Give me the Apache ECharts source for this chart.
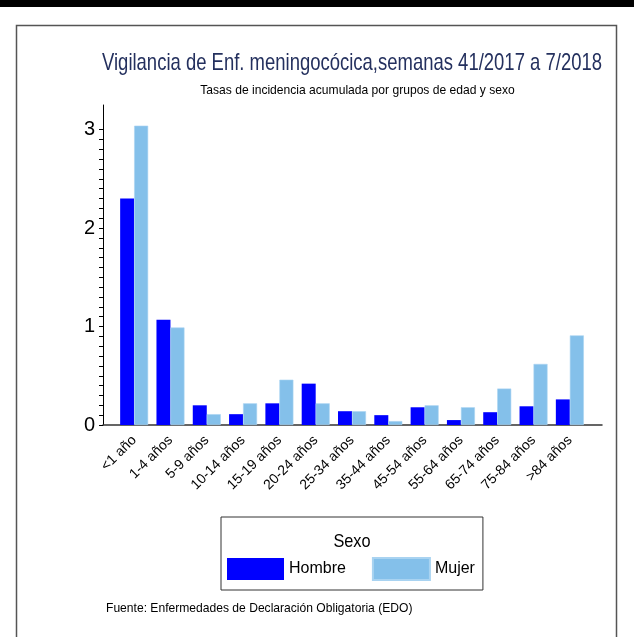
<!DOCTYPE html>
<html>
<head>
<meta charset="utf-8">
<title>Vigilancia de Enf. meningocócica</title>
<script src="https://cdn.jsdelivr.net/npm/echarts@6/dist/echarts.min.js"></script>
<style>
  html, body { margin: 0; padding: 0; background: #fff; }
  #chart { width: 634px; height: 637px; }
</style>
</head>
<body>
<div id="chart"></div>
<script>
var categories = ["<1 año", "1-4 años", "5-9 años", "10-14 años", "15-19 años", "20-24 años",
  "25-34 años", "35-44 años", "45-54 años", "55-64 años", "65-74 años", "75-84 años", ">84 años"];
var hombre = [2.30, 1.07, 0.20, 0.11, 0.22, 0.42, 0.14, 0.10, 0.18, 0.05, 0.13, 0.19, 0.26];
var mujer = [3.04, 0.99, 0.11, 0.22, 0.46, 0.22, 0.14, 0.04, 0.20, 0.18, 0.37, 0.62, 0.91];
var yLabels = [0, 1, 2, 3];

// minor ticks every 0.1 between 0 and 3
var yTicks = [];
for (var i = 0; i <= 30; i++) {
  yTicks.push(Math.round(i * 10) / 100);
}

var font = "'Liberation Sans', Arial, sans-serif";

// narrow-looking text: no condensed font installed, so squeeze it
function label(text, x, y, size, color, sx, align) {
  return {
    type: "text", x: x, y: y, scaleX: sx, silent: true,
    style: {
      text: text, fill: color, fontFamily: font, fontSize: size,
      textAlign: align || "center", textVerticalAlign: "middle",
    },
  };
}

var chart = echarts.init(document.getElementById("chart"));

var option = {
  backgroundColor: "#fff",
  animation: false,
  textStyle: { fontFamily: font },
  graphic: [
    { type: "rect", shape: { x: 0, y: 0, width: 634, height: 7 }, style: { fill: "#000" } },
    { type: "rect", shape: { x: 16.5, y: 25.5, width: 600, height: 640 },
      style: { fill: "none", stroke: "#555", lineWidth: 1.5 } },
    label("Vigilancia de Enf. meningocócica,semanas 41/2017 a 7/2018", 352, 63, 24, "#24305e", 0.77),
    label("Tasas de incidencia acumulada por grupos de edad y sexo", 357.5, 90, 13, "#000", 0.93),
    label("Sexo", 352, 542, 19, "#000", 0.86),
    label("Fuente: Enfermedades de Declaración Obligatoria (EDO)", 106, 608, 13, "#000", 0.93, "left"),
  ],
  legend: {
    data: ["Hombre", "Mujer"],
    left: 221, top: 517,
    orient: "horizontal",
    icon: "rect",
    itemWidth: 57, itemHeight: 22, itemGap: 26,
    padding: [40, 8, 9, 6],
    borderColor: "#333", borderWidth: 1,
    textStyle: { fontFamily: font, fontSize: 16, color: "#000" },
  },
  grid: [
    { left: 116, width: 472, top: 105, bottom: 212 },
    { left: 103, right: 32, top: 105, bottom: 212 },
  ],
  xAxis: [
    {
      type: "category", gridIndex: 0, data: categories,
      axisLine: { show: false },
      axisTick: { show: false },
      axisLabel: { rotate: 45, interval: 0, margin: 13, fontSize: 14, color: "#000", fontFamily: font },
    },
    {
      type: "value", gridIndex: 1, min: 0, max: 1,
      axisLine: { show: true, lineStyle: { color: "#333", width: 1.5 } },
      axisTick: { show: false }, axisLabel: { show: false }, splitLine: { show: false },
    },
  ],
  yAxis: [
    {
      type: "value", gridIndex: 0, min: 0, max: 3.25, offset: 13,
      axisLine: { show: true, lineStyle: { color: "#000", width: 1 } },
      axisTick: { show: true, length: 4, customValues: yTicks, lineStyle: { color: "#000" } },
      axisLabel: { customValues: yLabels, fontSize: 20, margin: 8, color: "#000", fontFamily: font },
      splitLine: { show: false },
    },
    { type: "value", gridIndex: 1, show: false },
  ],
  series: [
    {
      name: "Hombre", type: "bar", xAxisIndex: 0, yAxisIndex: 0,
      data: hombre, barWidth: 14, barGap: "0%",
      itemStyle: { color: "#0000ff" },
    },
    {
      name: "Mujer", type: "bar", xAxisIndex: 0, yAxisIndex: 0,
      data: mujer, barWidth: 14, barGap: "0%",
      itemStyle: { color: "#84c0ea", borderColor: "#a9d3f1", borderWidth: 0.6 },
    },
  ],
};

chart.setOption(option);
</script>
</body>
</html>
